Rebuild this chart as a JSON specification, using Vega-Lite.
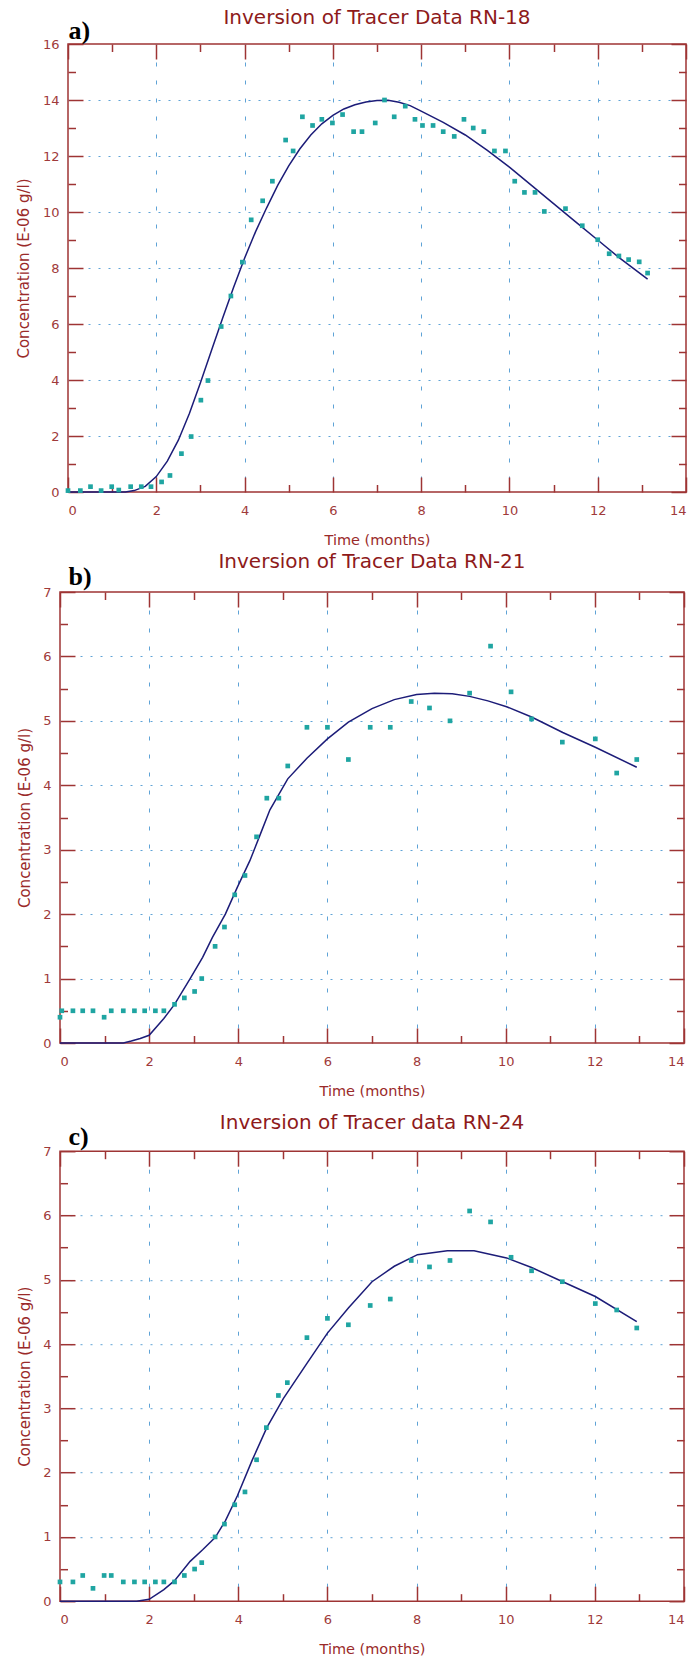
{
  "$schema": "https://vega.github.io/schema/vega-lite/v6.json",
  "background": "white",
  "padding": {"left": 13, "top": 7, "right": 5, "bottom": 2},
  "spacing": 2,
  "datasets": {
    "a_pts": [
      {"t":0,"c":0.05},{"t":0.28,"c":0.05},{"t":0.51,"c":0.19},{"t":0.75,"c":0.05},{"t":0.99,"c":0.19},{"t":1.15,"c":0.07},{"t":1.42,"c":0.19},{"t":1.66,"c":0.19},{"t":1.88,"c":0.19},{"t":2.12,"c":0.36},{"t":2.31,"c":0.59},{"t":2.57,"c":1.37},{"t":2.79,"c":1.98},{"t":3.01,"c":3.28},{"t":3.17,"c":3.98},{"t":3.47,"c":5.91},{"t":3.69,"c":7.0},{"t":3.95,"c":8.21},{"t":4.15,"c":9.72},{"t":4.41,"c":10.4},{"t":4.63,"c":11.1},{"t":4.93,"c":12.57},{"t":5.10,"c":12.18},{"t":5.31,"c":13.4},{"t":5.54,"c":13.09},{"t":5.75,"c":13.31},{"t":5.99,"c":13.18},{"t":6.22,"c":13.48},{"t":6.47,"c":12.87},{"t":6.66,"c":12.87},{"t":6.96,"c":13.18},{"t":7.17,"c":14.0},{"t":7.39,"c":13.4},{"t":7.64,"c":13.78},{"t":7.86,"c":13.31},{"t":8.03,"c":13.09},{"t":8.27,"c":13.09},{"t":8.50,"c":12.87},{"t":8.75,"c":12.70},{"t":8.97,"c":13.31},{"t":9.18,"c":13.0},{"t":9.42,"c":12.87},{"t":9.66,"c":12.18},{"t":9.91,"c":12.18},{"t":10.12,"c":11.1},{"t":10.34,"c":10.7},{"t":10.58,"c":10.7},{"t":10.79,"c":10.02},{"t":11.27,"c":10.12},{"t":11.65,"c":9.51},{"t":12.0,"c":9.01},{"t":12.26,"c":8.51},{"t":12.48,"c":8.43},{"t":12.70,"c":8.30},{"t":12.94,"c":8.22},{"t":13.13,"c":7.82}
    ],
    "a_fit": [
      {"t":0,"c":0},{"t":1.0,"c":0},{"t":1.3,"c":0},{"t":1.5,"c":0.05},{"t":1.75,"c":0.2},{"t":2.0,"c":0.55},{"t":2.25,"c":1.1},{"t":2.5,"c":1.85},{"t":2.75,"c":2.8},{"t":3.0,"c":3.9},{"t":3.25,"c":5.05},{"t":3.5,"c":6.2},{"t":3.75,"c":7.3},{"t":4.0,"c":8.35},{"t":4.25,"c":9.3},{"t":4.5,"c":10.15},{"t":4.75,"c":10.95},{"t":5.0,"c":11.65},{"t":5.25,"c":12.25},{"t":5.5,"c":12.75},{"t":5.75,"c":13.15},{"t":6.0,"c":13.45},{"t":6.25,"c":13.68},{"t":6.5,"c":13.83},{"t":6.75,"c":13.93},{"t":7.0,"c":13.98},{"t":7.25,"c":13.99},{"t":7.5,"c":13.92},{"t":7.75,"c":13.8},{"t":8.0,"c":13.6},{"t":8.5,"c":13.2},{"t":9.0,"c":12.75},{"t":9.5,"c":12.2},{"t":10.0,"c":11.6},{"t":10.5,"c":10.95},{"t":11.0,"c":10.3},{"t":11.5,"c":9.65},{"t":12.0,"c":9.0},{"t":12.5,"c":8.35},{"t":13.13,"c":7.6}
    ],
    "b_pts": [
      {"t":0,"c":0.4},{"t":0.04,"c":0.5},{"t":0.29,"c":0.5},{"t":0.51,"c":0.5},{"t":0.74,"c":0.5},{"t":0.99,"c":0.4},{"t":1.15,"c":0.5},{"t":1.42,"c":0.5},{"t":1.67,"c":0.5},{"t":1.90,"c":0.5},{"t":2.14,"c":0.5},{"t":2.33,"c":0.5},{"t":2.57,"c":0.6},{"t":2.79,"c":0.7},{"t":3.02,"c":0.8},{"t":3.18,"c":1.0},{"t":3.48,"c":1.5},{"t":3.69,"c":1.8},{"t":3.92,"c":2.3},{"t":4.15,"c":2.6},{"t":4.41,"c":3.2},{"t":4.64,"c":3.8},{"t":4.91,"c":3.8},{"t":5.11,"c":4.3},{"t":5.54,"c":4.9},{"t":6.0,"c":4.9},{"t":6.47,"c":4.4},{"t":6.96,"c":4.9},{"t":7.41,"c":4.9},{"t":7.88,"c":5.3},{"t":8.29,"c":5.2},{"t":8.75,"c":5.0},{"t":9.19,"c":5.43},{"t":9.66,"c":6.16},{"t":10.12,"c":5.45},{"t":10.58,"c":5.03},{"t":11.27,"c":4.67},{"t":12.01,"c":4.72},{"t":12.49,"c":4.19},{"t":12.94,"c":4.4}
    ],
    "b_fit": [
      {"t":0,"c":0},{"t":1.42,"c":0},{"t":1.6,"c":0.03},{"t":1.8,"c":0.07},{"t":2.0,"c":0.12},{"t":2.33,"c":0.38},{"t":2.57,"c":0.6},{"t":2.92,"c":1.0},{"t":3.2,"c":1.33},{"t":3.42,"c":1.64},{"t":3.71,"c":2.0},{"t":3.98,"c":2.42},{"t":4.26,"c":2.83},{"t":4.5,"c":3.25},{"t":4.71,"c":3.62},{"t":5.11,"c":4.1},{"t":5.54,"c":4.42},{"t":6.0,"c":4.72},{"t":6.47,"c":4.98},{"t":7.0,"c":5.19},{"t":7.5,"c":5.33},{"t":8.0,"c":5.41},{"t":8.4,"c":5.43},{"t":8.8,"c":5.42},{"t":9.19,"c":5.38},{"t":9.6,"c":5.31},{"t":10.02,"c":5.22},{"t":10.58,"c":5.06},{"t":11.28,"c":4.82},{"t":12.01,"c":4.59},{"t":12.94,"c":4.28}
    ],
    "c_pts": [
      {"t":0,"c":0.3},{"t":0.29,"c":0.3},{"t":0.51,"c":0.4},{"t":0.74,"c":0.2},{"t":0.99,"c":0.4},{"t":1.15,"c":0.4},{"t":1.42,"c":0.3},{"t":1.67,"c":0.3},{"t":1.90,"c":0.3},{"t":2.14,"c":0.3},{"t":2.33,"c":0.3},{"t":2.57,"c":0.3},{"t":2.79,"c":0.4},{"t":3.02,"c":0.5},{"t":3.18,"c":0.6},{"t":3.48,"c":1.0},{"t":3.69,"c":1.2},{"t":3.92,"c":1.5},{"t":4.15,"c":1.7},{"t":4.41,"c":2.2},{"t":4.63,"c":2.7},{"t":4.90,"c":3.2},{"t":5.10,"c":3.4},{"t":5.54,"c":4.1},{"t":6.0,"c":4.4},{"t":6.47,"c":4.3},{"t":6.96,"c":4.6},{"t":7.41,"c":4.7},{"t":7.88,"c":5.3},{"t":8.29,"c":5.2},{"t":8.75,"c":5.3},{"t":9.19,"c":6.07},{"t":9.66,"c":5.9},{"t":10.12,"c":5.35},{"t":10.58,"c":5.14},{"t":11.27,"c":4.97},{"t":12.01,"c":4.63},{"t":12.49,"c":4.53},{"t":12.94,"c":4.25}
    ],
    "c_fit": [
      {"t":0,"c":0},{"t":1.72,"c":0},{"t":2.0,"c":0.03},{"t":2.33,"c":0.18},{"t":2.57,"c":0.32},{"t":2.92,"c":0.62},{"t":3.2,"c":0.8},{"t":3.48,"c":0.99},{"t":3.71,"c":1.25},{"t":3.98,"c":1.64},{"t":4.31,"c":2.19},{"t":4.64,"c":2.7},{"t":5.01,"c":3.15},{"t":5.54,"c":3.7},{"t":6.0,"c":4.17},{"t":6.47,"c":4.56},{"t":7.0,"c":4.97},{"t":7.5,"c":5.21},{"t":8.02,"c":5.39},{"t":8.69,"c":5.45},{"t":9.29,"c":5.45},{"t":10.02,"c":5.34},{"t":10.58,"c":5.19},{"t":11.28,"c":4.97},{"t":12.01,"c":4.74},{"t":12.94,"c":4.35}
    ],
    "none": []
  },
  "vconcat": [
    {
      "spacing": 0,
      "hconcat": [
        {"width": 1, "height": 1, "data": {"name": "none"}, "mark": "point", "view": {"stroke": "transparent"}},
        {
          "width": 618, "height": 448,
          "title": {"text": "Inversion of Tracer Data RN-18", "offset": -11},
          "layer": [
            {"data": {"name": "a_fit"}, "mark": {"type": "line", "color": "#1c1c78", "strokeWidth": 1.5},
             "encoding": {
               "x": {"field": "t", "type": "quantitative", "scale": {"domain": [0, 14], "nice": false},
                     "axis": {"orient": "bottom", "values": [0,2,4,6,8,10,12,14], "ticks": false, "domain": false, "labelPadding": 12.5, "title": "Time (months)", "titleFontSize": 14.5, "titlePadding": 15.5, "grid": true, "gridColor": "#5fa3d6", "gridDash": [4, 14], "gridOpacity": {"condition": {"test": "datum.value == 0 || datum.value == 14", "value": 0}, "value": 1}}},
               "y": {"field": "c", "type": "quantitative", "scale": {"domain": [0, 16], "nice": false},
                     "axis": {"orient": "left", "values": [0,2,4,6,8,10,12,14,16], "ticks": false, "domain": false, "labelPadding": 9, "title": "Concentration (E-06 g/l)", "titleFontSize": 15, "titlePadding": 10.5, "grid": true, "gridColor": "#5fa3d6", "gridDash": [2, 8], "gridOpacity": {"condition": {"test": "datum.value == 0 || datum.value == 16", "value": 0}, "value": 1}}}
             }},
            {"data": {"name": "a_pts"}, "mark": {"type": "point", "shape": "square", "filled": true, "size": 22, "color": "#1fa5a2", "opacity": 1},
             "encoding": {
               "x": {"field": "t", "type": "quantitative", "axis": {"orient": "bottom", "offset": -15, "values": [0,2,4,6,8,10,12,14], "labels": true, "labelOpacity": 0, "domain": false, "grid": false, "ticks": true, "tickSize": 15, "tickWidth": 1.5, "title": null}},
               "y": {"field": "c", "type": "quantitative", "axis": {"orient": "left", "offset": -15, "values": [0,2,4,6,8,10,12,14,16], "labels": true, "labelOpacity": 0, "domain": false, "grid": false, "ticks": true, "tickSize": 15, "tickWidth": 1.5, "title": null}}
             }},
            {"data": {"name": "a_fit"}, "mark": {"type": "point", "opacity": 0},
             "encoding": {
               "x": {"field": "t", "type": "quantitative", "axis": {"orient": "bottom", "offset": -7.5, "values": [1,3,5,7,9,11,13], "labels": true, "labelOpacity": 0, "domain": false, "grid": false, "ticks": true, "tickSize": 7.5, "tickWidth": 1.5, "title": null}},
               "y": {"field": "c", "type": "quantitative", "axis": {"orient": "left", "offset": -7.5, "values": [1,3,5,7,9,11,13,15], "labels": true, "labelOpacity": 0, "domain": false, "grid": false, "ticks": true, "tickSize": 7.5, "tickWidth": 1.5, "title": null}}
             }},
            {"data": {"name": "a_fit"}, "mark": {"type": "point", "opacity": 0},
             "encoding": {
               "x": {"field": "t", "type": "quantitative", "axis": {"orient": "top", "offset": -15, "values": [0,2,4,6,8,10,12,14], "labels": true, "labelOpacity": 0, "domain": false, "grid": false, "ticks": true, "tickSize": 15, "tickWidth": 1.5, "title": "a)", "titleFont": "Liberation Serif", "titleFontWeight": "bold", "titleFontSize": 26, "titleColor": "black", "titleAnchor": "start", "titleAlign": "left", "titleBaseline": "bottom", "titleAngle": 0, "titleX": 0, "titleY": -16}},
               "y": {"field": "c", "type": "quantitative", "axis": {"orient": "right", "offset": -15, "values": [0,2,4,6,8,10,12,14,16], "labels": true, "labelOpacity": 0, "domain": false, "grid": false, "ticks": true, "tickSize": 15, "tickWidth": 1.5, "title": null}}
             }},
            {"data": {"name": "a_fit"}, "mark": {"type": "point", "opacity": 0},
             "encoding": {
               "x": {"field": "t", "type": "quantitative", "axis": {"orient": "top", "offset": -7.5, "values": [1,3,5,7,9,11,13], "labels": true, "labelOpacity": 0, "domain": false, "grid": false, "ticks": true, "tickSize": 7.5, "tickWidth": 1.5, "title": null}},
               "y": {"field": "c", "type": "quantitative", "axis": {"orient": "right", "offset": -7.5, "values": [1,3,5,7,9,11,13,15], "labels": true, "labelOpacity": 0, "domain": false, "grid": false, "ticks": true, "tickSize": 7.5, "tickWidth": 1.5, "title": null}}
             }}
          ],
          "resolve": {"axis": {"x": "independent", "y": "independent"}}
        }
      ]
    },
    {
      "spacing": 13.2,
      "vconcat": [
        {
          "spacing": 0,
          "hconcat": [
            {"width": 1, "height": 1, "data": {"name": "none"}, "mark": "point", "view": {"stroke": "transparent"}},
            {
              "width": 624, "height": 451,
              "title": {"text": "Inversion of Tracer Data RN-21", "offset": -8.5},
              "layer": [
                {"data": {"name": "b_fit"}, "mark": {"type": "line", "color": "#1c1c78", "strokeWidth": 1.5},
                 "encoding": {
                   "x": {"field": "t", "type": "quantitative", "scale": {"domain": [0, 14], "nice": false},
                         "axis": {"orient": "bottom", "values": [0,2,4,6,8,10,12,14], "ticks": false, "domain": false, "labelPadding": 12.5, "title": "Time (months)", "titleFontSize": 14.5, "titlePadding": 15.5, "grid": true, "gridColor": "#5fa3d6", "gridDash": [4, 14], "gridOpacity": {"condition": {"test": "datum.value == 0 || datum.value == 14", "value": 0}, "value": 1}}},
                   "y": {"field": "c", "type": "quantitative", "scale": {"domain": [0, 7], "nice": false},
                         "axis": {"orient": "left", "values": [0,1,2,3,4,5,6,7], "ticks": false, "domain": false, "labelPadding": 9, "title": "Concentration (E-06 g/l)", "titleFontSize": 15, "titlePadding": 10.5, "grid": true, "gridColor": "#5fa3d6", "gridDash": [2, 8], "gridOpacity": {"condition": {"test": "datum.value == 0 || datum.value == 7", "value": 0}, "value": 1}}}
                 }},
                {"data": {"name": "b_pts"}, "mark": {"type": "point", "shape": "square", "filled": true, "size": 22, "color": "#1fa5a2", "opacity": 1},
                 "encoding": {
                   "x": {"field": "t", "type": "quantitative", "axis": {"orient": "bottom", "offset": -15, "values": [0,2,4,6,8,10,12,14], "labels": true, "labelOpacity": 0, "domain": false, "grid": false, "ticks": true, "tickSize": 15, "tickWidth": 1.5, "title": null}},
                   "y": {"field": "c", "type": "quantitative", "axis": {"orient": "left", "offset": -15, "values": [0,1,2,3,4,5,6,7], "labels": true, "labelOpacity": 0, "domain": false, "grid": false, "ticks": true, "tickSize": 15, "tickWidth": 1.5, "title": null}}
                 }},
                {"data": {"name": "b_fit"}, "mark": {"type": "point", "opacity": 0},
                 "encoding": {
                   "x": {"field": "t", "type": "quantitative", "axis": {"orient": "bottom", "offset": -7.5, "values": [1,3,5,7,9,11,13], "labels": true, "labelOpacity": 0, "domain": false, "grid": false, "ticks": true, "tickSize": 7.5, "tickWidth": 1.5, "title": null}},
                   "y": {"field": "c", "type": "quantitative", "axis": {"orient": "left", "offset": -7.5, "values": [0.5,1.5,2.5,3.5,4.5,5.5,6.5], "labels": true, "labelOpacity": 0, "domain": false, "grid": false, "ticks": true, "tickSize": 7.5, "tickWidth": 1.5, "title": null}}
                 }},
                {"data": {"name": "b_fit"}, "mark": {"type": "point", "opacity": 0},
                 "encoding": {
                   "x": {"field": "t", "type": "quantitative", "axis": {"orient": "top", "offset": -15, "values": [0,2,4,6,8,10,12,14], "labels": true, "labelOpacity": 0, "domain": false, "grid": false, "ticks": true, "tickSize": 15, "tickWidth": 1.5, "title": "b)", "titleFont": "Liberation Serif", "titleFontWeight": "bold", "titleFontSize": 26, "titleColor": "black", "titleAnchor": "start", "titleAlign": "left", "titleBaseline": "bottom", "titleAngle": 0, "titleX": 8, "titleY": -18}},
                   "y": {"field": "c", "type": "quantitative", "axis": {"orient": "right", "offset": -15, "values": [0,1,2,3,4,5,6,7], "labels": true, "labelOpacity": 0, "domain": false, "grid": false, "ticks": true, "tickSize": 15, "tickWidth": 1.5, "title": null}}
                 }},
                {"data": {"name": "b_fit"}, "mark": {"type": "point", "opacity": 0},
                 "encoding": {
                   "x": {"field": "t", "type": "quantitative", "axis": {"orient": "top", "offset": -7.5, "values": [1,3,5,7,9,11,13], "labels": true, "labelOpacity": 0, "domain": false, "grid": false, "ticks": true, "tickSize": 7.5, "tickWidth": 1.5, "title": null}},
                   "y": {"field": "c", "type": "quantitative", "axis": {"orient": "right", "offset": -7.5, "values": [0.5,1.5,2.5,3.5,4.5,5.5,6.5], "labels": true, "labelOpacity": 0, "domain": false, "grid": false, "ticks": true, "tickSize": 7.5, "tickWidth": 1.5, "title": null}}
                 }}
              ],
              "resolve": {"axis": {"x": "independent", "y": "independent"}}
            }
          ]
        },
        {
          "spacing": 0,
          "hconcat": [
            {"width": 1, "height": 1, "data": {"name": "none"}, "mark": "point", "view": {"stroke": "transparent"}},
            {
              "width": 624, "height": 450,
              "title": {"text": "Inversion of Tracer data RN-24", "offset": -10.2},
              "layer": [
                {"data": {"name": "c_fit"}, "mark": {"type": "line", "color": "#1c1c78", "strokeWidth": 1.5},
                 "encoding": {
                   "x": {"field": "t", "type": "quantitative", "scale": {"domain": [0, 14], "nice": false},
                         "axis": {"orient": "bottom", "values": [0,2,4,6,8,10,12,14], "ticks": false, "domain": false, "labelPadding": 12.5, "title": "Time (months)", "titleFontSize": 14.5, "titlePadding": 15.5, "grid": true, "gridColor": "#5fa3d6", "gridDash": [4, 14], "gridOpacity": {"condition": {"test": "datum.value == 0 || datum.value == 14", "value": 0}, "value": 1}}},
                   "y": {"field": "c", "type": "quantitative", "scale": {"domain": [0, 7], "nice": false},
                         "axis": {"orient": "left", "values": [0,1,2,3,4,5,6,7], "ticks": false, "domain": false, "labelPadding": 9, "title": "Concentration (E-06 g/l)", "titleFontSize": 15, "titlePadding": 10.5, "grid": true, "gridColor": "#5fa3d6", "gridDash": [2, 8], "gridOpacity": {"condition": {"test": "datum.value == 0 || datum.value == 7", "value": 0}, "value": 1}}}
                 }},
                {"data": {"name": "c_pts"}, "mark": {"type": "point", "shape": "square", "filled": true, "size": 22, "color": "#1fa5a2", "opacity": 1},
                 "encoding": {
                   "x": {"field": "t", "type": "quantitative", "axis": {"orient": "bottom", "offset": -15, "values": [0,2,4,6,8,10,12,14], "labels": true, "labelOpacity": 0, "domain": false, "grid": false, "ticks": true, "tickSize": 15, "tickWidth": 1.5, "title": null}},
                   "y": {"field": "c", "type": "quantitative", "axis": {"orient": "left", "offset": -15, "values": [0,1,2,3,4,5,6,7], "labels": true, "labelOpacity": 0, "domain": false, "grid": false, "ticks": true, "tickSize": 15, "tickWidth": 1.5, "title": null}}
                 }},
                {"data": {"name": "c_fit"}, "mark": {"type": "point", "opacity": 0},
                 "encoding": {
                   "x": {"field": "t", "type": "quantitative", "axis": {"orient": "bottom", "offset": -7.5, "values": [1,3,5,7,9,11,13], "labels": true, "labelOpacity": 0, "domain": false, "grid": false, "ticks": true, "tickSize": 7.5, "tickWidth": 1.5, "title": null}},
                   "y": {"field": "c", "type": "quantitative", "axis": {"orient": "left", "offset": -7.5, "values": [0.5,1.5,2.5,3.5,4.5,5.5,6.5], "labels": true, "labelOpacity": 0, "domain": false, "grid": false, "ticks": true, "tickSize": 7.5, "tickWidth": 1.5, "title": null}}
                 }},
                {"data": {"name": "c_fit"}, "mark": {"type": "point", "opacity": 0},
                 "encoding": {
                   "x": {"field": "t", "type": "quantitative", "axis": {"orient": "top", "offset": -15, "values": [0,2,4,6,8,10,12,14], "labels": true, "labelOpacity": 0, "domain": false, "grid": false, "ticks": true, "tickSize": 15, "tickWidth": 1.5, "title": "c)", "titleFont": "Liberation Serif", "titleFontWeight": "bold", "titleFontSize": 26, "titleColor": "black", "titleAnchor": "start", "titleAlign": "left", "titleBaseline": "bottom", "titleAngle": 0, "titleX": 8, "titleY": -17}},
                   "y": {"field": "c", "type": "quantitative", "axis": {"orient": "right", "offset": -15, "values": [0,1,2,3,4,5,6,7], "labels": true, "labelOpacity": 0, "domain": false, "grid": false, "ticks": true, "tickSize": 15, "tickWidth": 1.5, "title": null}}
                 }},
                {"data": {"name": "c_fit"}, "mark": {"type": "point", "opacity": 0},
                 "encoding": {
                   "x": {"field": "t", "type": "quantitative", "axis": {"orient": "top", "offset": -7.5, "values": [1,3,5,7,9,11,13], "labels": true, "labelOpacity": 0, "domain": false, "grid": false, "ticks": true, "tickSize": 7.5, "tickWidth": 1.5, "title": null}},
                   "y": {"field": "c", "type": "quantitative", "axis": {"orient": "right", "offset": -7.5, "values": [0.5,1.5,2.5,3.5,4.5,5.5,6.5], "labels": true, "labelOpacity": 0, "domain": false, "grid": false, "ticks": true, "tickSize": 7.5, "tickWidth": 1.5, "title": null}}
                 }}
              ],
              "resolve": {"axis": {"x": "independent", "y": "independent"}}
            }
          ]
        }
      ]
    }
  ],
  "config": {
    "view": {"stroke": "#9e3434", "strokeWidth": 1.5},
    "axis": {"labelFont": "DejaVu Sans", "labelFontSize": 13, "labelColor": "#a03a3a", "titleFont": "DejaVu Sans", "titleFontSize": 14, "titleFontWeight": "normal", "titleColor": "#9a2a2a", "tickColor": "#9e3434", "domainColor": "#9e3434"},
    "title": {"font": "DejaVu Sans", "fontSize": 20, "fontWeight": "normal", "color": "#8e1a1a", "anchor": "middle"}
  }
}
